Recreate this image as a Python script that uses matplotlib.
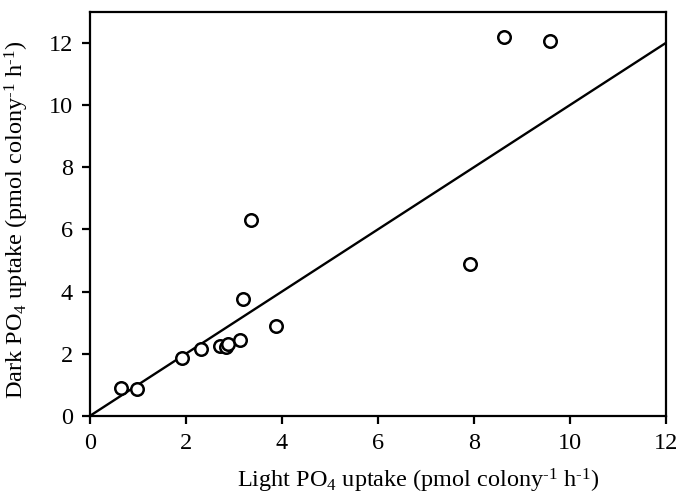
import matplotlib
matplotlib.use("Agg")
import matplotlib.pyplot as plt
import numpy as np

plt.rcParams['font.family'] = ['Liberation Serif']
plt.rcParams['mathtext.fontset'] = 'custom'
plt.rcParams['mathtext.rm'] = 'Liberation Serif'
plt.rcParams['mathtext.it'] = 'Liberation Serif:italic'
plt.rcParams['mathtext.default'] = 'regular'

light = [0.65, 0.98, 1.93, 2.31, 2.71, 2.83, 2.87, 3.13, 3.19, 3.35, 3.88, 7.92, 8.63, 9.58]
dark = [0.90, 0.87, 1.85, 2.17, 2.24, 2.22, 2.32, 2.45, 3.78, 6.31, 2.88, 4.90, 12.18, 12.05]
line_x = [0, 12]
line_y = [0, 12]

fig = plt.figure(figsize=(6.8, 4.97), dpi=100)
ax = fig.add_axes([0.132, 0.163, 0.847, 0.813])
ax.plot(line_x, line_y, color='black', lw=1.7, zorder=2)
ax.plot(light, dark, 'o', mfc='white', mec='black', mew=1.8, ms=9, zorder=3, ls='none')
ax.set_xlim(0, 12)
ax.set_ylim(0, 13)
ax.set_xticks(range(0, 13, 2))
ax.set_yticks(range(0, 13, 2))
for s in ax.spines.values():
    s.set_linewidth(1.6)
ax.tick_params(direction='out', length=6, width=1.6, labelsize=17.5, pad=6)
ax.set_xlabel(r'Light PO$_4$ uptake (pmol colony$^{\text{-}1}$ h$^{\text{-}1}$)', fontsize=17.5)
ax.set_ylabel(r'Dark PO$_4$ uptake (pmol colony$^{\text{-}1}$ h$^{\text{-}1}$)', fontsize=17.5)
ax.xaxis.set_label_coords(0.57, -0.125)
ax.yaxis.set_label_coords(-0.102, 0.485)
fig.savefig('out.png', dpi=100)
